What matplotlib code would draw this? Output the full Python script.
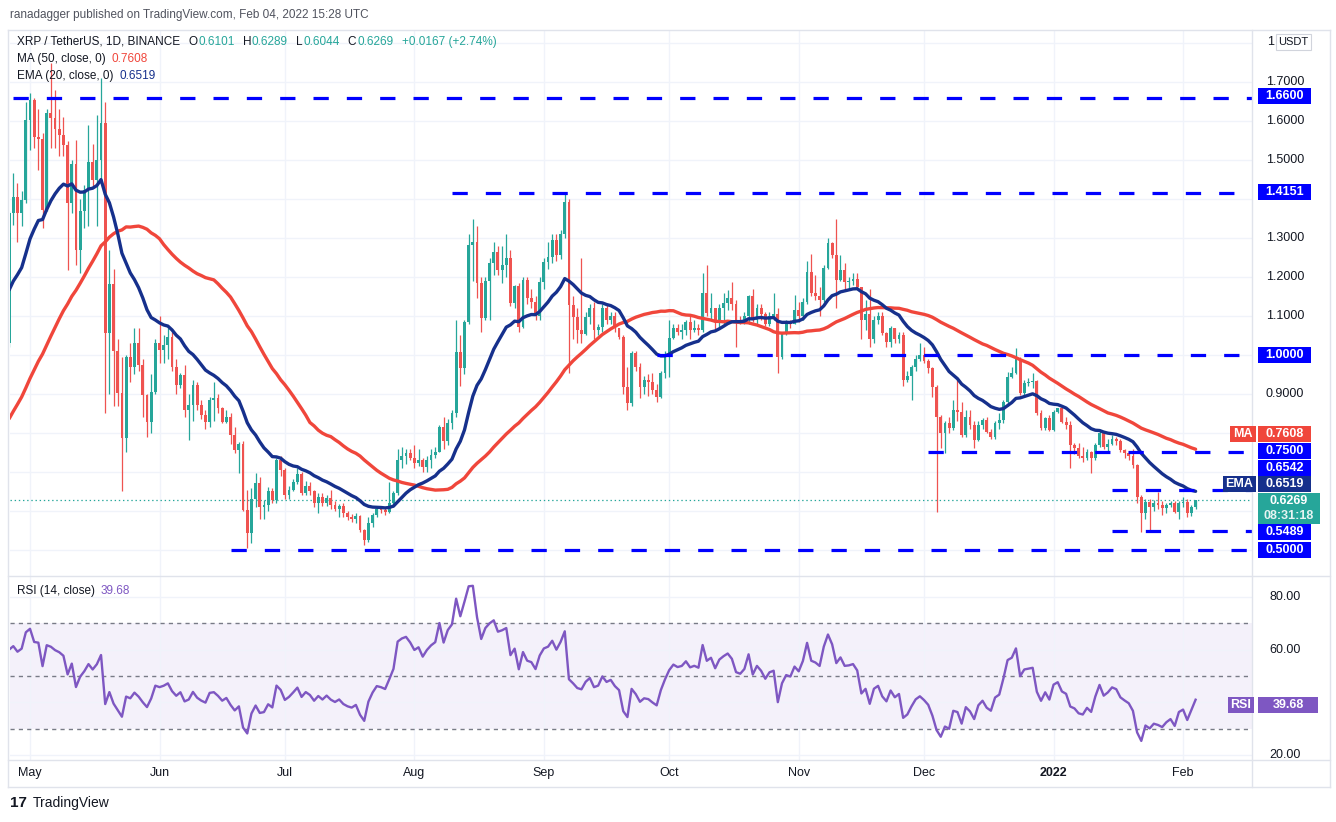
import numpy as np
import pandas as pd
import matplotlib
matplotlib.use('Agg')
import matplotlib.pyplot as plt
from matplotlib.patches import Rectangle
from matplotlib.transforms import blended_transform_factory

plt.rcParams['font.family'] = ['Liberation Sans', 'DejaVu Sans']
plt.rcParams['lines.scale_dashes'] = False

# ---------------- data (XRP/USDT daily) ----------------
# closes before the visible window, only used to warm up MA / EMA / RSI (Mar 1 - Apr 25 2021)
warmup_close = [0.44, 0.43, 0.45, 0.44, 0.45, 0.44, 0.44, 0.45, 0.46, 0.46, 0.44, 0.44, 0.47, 0.45, 0.44, 0.45,
                0.47, 0.47, 0.46, 0.50, 0.53, 0.51, 0.50, 0.47, 0.48, 0.51, 0.54, 0.55, 0.57, 0.56, 0.57,
                0.57, 0.58, 0.62, 0.61, 0.99, 0.96, 0.92, 1.06, 1.07, 1.37, 1.35, 1.45, 1.77, 1.68, 1.57,
                1.46, 1.43, 1.26, 1.22, 1.32, 1.21, 1.08, 1.10, 1.03, 1.03]

close_apr = [1.363, 1.406, 1.363, 1.397, 1.603]
high_apr = [1.37, 1.466, 1.44, 1.42, 1.65]
low_apr = [1.02, 1.333, 1.29, 1.33, 1.39]

close_may = [1.654, 1.56, 1.555, 1.372, 1.62, 1.607, 1.58, 1.564, 1.538, 1.389, 1.491, 1.269, 1.368, 1.423, 1.496,
             1.449, 1.50, 1.594, 1.056, 1.182, 1.009, 0.902, 0.786, 0.996, 0.97, 1.03, 0.975, 0.897, 0.829, 0.906, 1.03]
high_may = [1.671, 1.66, 1.63, 1.57, 1.63, 1.75, 1.68, 1.63, 1.61, 1.55, 1.50, 1.551, 1.40, 1.436, 1.59,
            1.54, 1.615, 1.71, 1.65, 1.27, 1.22, 1.04, 0.996, 1.0, 1.03, 1.07, 1.07, 0.99, 0.90, 0.95, 1.04]
low_may = [1.526, 1.53, 1.475, 1.325, 1.37, 1.53, 1.53, 1.51, 1.51, 1.218, 1.363, 1.231, 1.21, 1.325, 1.33,
           1.43, 1.33, 1.45, 0.85, 0.90, 0.87, 0.87, 0.65, 0.75, 0.93, 0.95, 0.96, 0.84, 0.79, 0.80, 0.90]

close_jun = [1.013, 1.026, 1.047, 0.97, 0.923, 0.949, 0.859, 0.872, 0.923, 0.872, 0.846, 0.829, 0.885, 0.889, 0.863,
             0.829, 0.842, 0.795, 0.756, 0.773, 0.603, 0.543, 0.632, 0.671, 0.611, 0.615, 0.65, 0.628, 0.731, 0.705]
high_jun = [1.10, 1.05, 1.07, 1.06, 0.99, 0.953, 0.975, 0.90, 0.936, 0.931, 0.885, 0.859, 0.893, 0.932, 0.90,
            0.867, 0.859, 0.85, 0.815, 0.777, 0.78, 0.655, 0.66, 0.697, 0.688, 0.628, 0.662, 0.658, 0.735, 0.74]
low_jun = [0.98, 0.98, 0.99, 0.96, 0.90, 0.915, 0.84, 0.782, 0.83, 0.86, 0.835, 0.81, 0.816, 0.83, 0.85,
           0.825, 0.825, 0.773, 0.748, 0.697, 0.60, 0.504, 0.517, 0.61, 0.58, 0.58, 0.60, 0.62, 0.62, 0.69]

close_jul = [0.641, 0.655, 0.675, 0.696, 0.645, 0.665, 0.650, 0.62, 0.637, 0.62, 0.633, 0.615, 0.605, 0.612, 0.594,
             0.585, 0.58, 0.586, 0.55, 0.526, 0.568, 0.59, 0.606, 0.603, 0.598, 0.62, 0.645, 0.73, 0.742, 0.748, 0.737]
high_jul = [0.71, 0.665, 0.683, 0.709, 0.70, 0.676, 0.675, 0.655, 0.645, 0.645, 0.64, 0.655, 0.625, 0.618, 0.62,
            0.60, 0.592, 0.595, 0.59, 0.553, 0.585, 0.595, 0.613, 0.612, 0.61, 0.675, 0.65, 0.76, 0.765, 0.76, 0.76]
low_jul = [0.632, 0.63, 0.65, 0.67, 0.64, 0.64, 0.64, 0.611, 0.594, 0.612, 0.614, 0.605, 0.60, 0.585, 0.585,
           0.577, 0.573, 0.57, 0.545, 0.513, 0.52, 0.56, 0.585, 0.595, 0.59, 0.595, 0.61, 0.64, 0.71, 0.72, 0.73]

close_aug = [0.722, 0.73, 0.712, 0.73, 0.743, 0.752, 0.816, 0.78, 0.826, 0.85, 1.008, 0.966, 1.085, 1.282, 1.29,
             1.184, 1.094, 1.19, 1.235, 1.265, 1.218, 1.23, 1.248, 1.133, 1.177, 1.073, 1.192, 1.145, 1.137, 1.10, 1.188]
high_aug = [0.77, 0.76, 0.735, 0.74, 0.76, 0.765, 0.82, 0.842, 0.835, 0.86, 1.09, 1.05, 1.09, 1.31, 1.35,
            1.33, 1.20, 1.20, 1.25, 1.29, 1.28, 1.28, 1.31, 1.27, 1.18, 1.185, 1.20, 1.20, 1.17, 1.15, 1.20]
low_aug = [0.71, 0.715, 0.70, 0.70, 0.71, 0.735, 0.75, 0.76, 0.77, 0.81, 0.84, 0.92, 0.95, 1.08, 1.19,
           1.145, 1.06, 1.09, 1.09, 1.205, 1.205, 1.185, 1.20, 1.125, 1.12, 1.06, 1.07, 1.13, 1.12, 1.09, 1.09]

close_sep = [1.239, 1.252, 1.295, 1.256, 1.31, 1.393, 1.128, 1.098, 1.064, 1.055, 1.098, 1.12, 1.064, 1.072, 1.12,
             1.09, 1.10, 1.068, 1.047, 0.919, 0.876, 1.004, 0.97, 0.919, 0.935, 0.93, 0.91, 0.893, 0.953, 1.0]
high_sep = [1.25, 1.29, 1.31, 1.31, 1.32, 1.415, 1.40, 1.15, 1.12, 1.25, 1.11, 1.13, 1.135, 1.08, 1.13,
            1.13, 1.11, 1.11, 1.07, 1.05, 0.97, 1.01, 1.01, 0.98, 0.945, 0.95, 0.955, 0.925, 0.96, 1.01]
low_sep = [1.17, 1.22, 1.235, 1.24, 1.245, 1.30, 0.953, 1.04, 1.03, 1.03, 1.05, 1.08, 1.04, 1.05, 1.06,
           1.08, 1.08, 1.06, 1.04, 0.90, 0.86, 0.87, 0.96, 0.89, 0.90, 0.895, 0.90, 0.88, 0.89, 0.94]

close_oct = [1.043, 1.07, 1.06, 1.065, 1.085, 1.064, 1.07, 1.064, 1.158, 1.107, 1.12, 1.085, 1.12, 1.134, 1.145,
             1.13, 1.09, 1.085, 1.10, 1.15, 1.09, 1.12, 1.105, 1.08, 1.10, 1.105, 0.996, 1.056, 1.085, 1.08, 1.115]
high_oct = [1.09, 1.08, 1.08, 1.08, 1.09, 1.10, 1.09, 1.08, 1.21, 1.23, 1.16, 1.12, 1.13, 1.16, 1.167,
            1.187, 1.14, 1.10, 1.11, 1.155, 1.17, 1.13, 1.13, 1.11, 1.11, 1.16, 1.12, 1.06, 1.09, 1.09, 1.155]
low_oct = [0.944, 1.04, 1.05, 1.04, 1.05, 1.04, 1.06, 1.05, 1.06, 1.10, 1.09, 1.065, 1.07, 1.08, 1.115,
           1.115, 1.02, 1.08, 1.08, 1.08, 1.085, 1.08, 1.09, 1.075, 1.075, 1.09, 0.953, 0.99, 1.05, 1.07, 1.08]

close_nov = [1.10, 1.137, 1.214, 1.158, 1.152, 1.141, 1.222, 1.286, 1.256, 1.192, 1.218, 1.188, 1.19, 1.195, 1.175,
             1.09, 1.105, 1.04, 1.09, 1.10, 1.056, 1.034, 1.068, 1.04, 1.05, 0.936, 0.946, 0.97, 0.991, 1.0]
high_nov = [1.135, 1.145, 1.24, 1.26, 1.205, 1.175, 1.23, 1.30, 1.29, 1.35, 1.256, 1.235, 1.20, 1.21, 1.21,
            1.175, 1.14, 1.17, 1.10, 1.11, 1.11, 1.06, 1.075, 1.07, 1.06, 1.06, 0.96, 0.975, 1.0, 1.03]
low_nov = [1.085, 1.09, 1.13, 1.15, 1.14, 1.10, 1.135, 1.22, 1.25, 1.12, 1.19, 1.167, 1.17, 1.18, 1.17,
           1.04, 1.065, 1.02, 1.03, 1.08, 1.05, 1.02, 1.02, 1.03, 1.03, 0.92, 0.93, 0.885, 0.96, 0.985]

close_dec = [0.985, 0.966, 0.919, 0.842, 0.799, 0.825, 0.812, 0.859, 0.853, 0.795, 0.84, 0.82, 0.782, 0.82, 0.833,
             0.803, 0.79, 0.825, 0.833, 0.88, 0.944, 0.953, 0.99, 0.902, 0.927, 0.93, 0.933, 0.85, 0.812, 0.838, 0.808]
high_dec = [1.02, 0.99, 0.97, 0.923, 0.845, 0.83, 0.84, 0.885, 0.936, 0.88, 0.859, 0.86, 0.83, 0.83, 0.838,
            0.84, 0.81, 0.83, 0.85, 0.885, 0.957, 0.97, 1.017, 0.995, 0.936, 0.94, 0.953, 0.935, 0.859, 0.84, 0.846]
low_dec = [0.98, 0.955, 0.893, 0.598, 0.761, 0.748, 0.80, 0.808, 0.83, 0.79, 0.79, 0.81, 0.761, 0.78, 0.81,
           0.80, 0.785, 0.785, 0.81, 0.825, 0.87, 0.94, 0.95, 0.897, 0.897, 0.92, 0.915, 0.846, 0.808, 0.808, 0.804]

close_jan = [0.855, 0.863, 0.829, 0.82, 0.769, 0.761, 0.74, 0.735, 0.75, 0.735, 0.77, 0.799, 0.765, 0.773, 0.785,
             0.78, 0.757, 0.748, 0.74, 0.718, 0.637, 0.594, 0.624, 0.611, 0.62, 0.615, 0.607, 0.615, 0.62, 0.598, 0.62]
high_jan = [0.86, 0.865, 0.865, 0.84, 0.83, 0.775, 0.775, 0.765, 0.76, 0.755, 0.775, 0.81, 0.805, 0.785, 0.795,
            0.79, 0.785, 0.76, 0.755, 0.76, 0.72, 0.64, 0.63, 0.63, 0.628, 0.649, 0.625, 0.62, 0.625, 0.625, 0.625]
low_jan = [0.805, 0.85, 0.825, 0.81, 0.71, 0.745, 0.735, 0.726, 0.73, 0.697, 0.73, 0.765, 0.76, 0.755, 0.77,
           0.77, 0.75, 0.735, 0.73, 0.71, 0.62, 0.547, 0.58, 0.547, 0.60, 0.605, 0.59, 0.595, 0.61, 0.595, 0.58]

close_feb = [0.624, 0.594, 0.6101, 0.6269]
high_feb = [0.637, 0.63, 0.615, 0.6289]
low_feb = [0.61, 0.585, 0.587, 0.6044]

# horizontal levels drawn on the chart and the day each one starts
levels = [1.66, 1.4151, 1.0, 0.75, 0.6542, 0.5489, 0.5]
level_start = ['2021-04-27', '2021-08-10', '2021-09-28', '2021-12-02', '2022-01-15', '2022-01-15', '2021-06-18']

# scale labels that are not hidden behind the value tags
price_ticks = [0.9, 1.1, 1.2, 1.3, 1.5, 1.6, 1.7]
rsi_ticks = [20, 60, 80]

month_ticks = ['2021-05-01', '2021-06-01', '2021-07-01', '2021-08-01', '2021-09-01', '2021-10-01',
               '2021-11-01', '2021-12-01', '2022-01-01', '2022-02-01']
month_labels = ['May', 'Jun', 'Jul', 'Aug', 'Sep', 'Oct', 'Nov', 'Dec', '2022', 'Feb']

# ---------------- series ----------------
close = np.array(close_apr + close_may + close_jun + close_jul + close_aug + close_sep
                 + close_oct + close_nov + close_dec + close_jan + close_feb)
high = np.array(high_apr + high_may + high_jun + high_jul + high_aug + high_sep
                + high_oct + high_nov + high_dec + high_jan + high_feb)
low = np.array(low_apr + low_may + low_jun + low_jul + low_aug + low_sep
               + low_oct + low_nov + low_dec + low_jan + low_feb)
opn = np.r_[warmup_close[-1], close[:-1]]

origin = pd.Timestamp('2021-05-01')
dates = pd.date_range('2021-04-26', periods=len(close), freq='D')
x = np.asarray((dates - origin).days, dtype=float)

s = pd.Series(warmup_close + list(close))
ma50 = s.rolling(50).mean().to_numpy()[-len(close):]
ema20 = s.ewm(span=20, adjust=False).mean().to_numpy()[-len(close):]
d = s.diff()
gain = d.clip(lower=0).ewm(alpha=1 / 14, adjust=False).mean()
loss = (-d.clip(upper=0)).ewm(alpha=1 / 14, adjust=False).mean()
rsi = (100 - 100 / (1 + gain / loss)).to_numpy()[-len(close):]

# ---------------- figure ----------------
W, H = 1336, 822
fig = plt.figure(figsize=(W / 100, H / 100), dpi=100)
fig.patch.set_facecolor('white')


def fx(px):
    return px / W


def fy(py):
    return 1 - py / H


TXT = '#131722'
UP, DOWN = '#26a69a', '#ef5350'
MA_C, EMA_C = '#f0463b', '#16308c'
LVL_C = '#0000ff'
RSI_C = '#7e57c2'
GRID = '#f0f3fa'
BORDER = '#e0e3eb'

ax = fig.add_axes([fx(10), fy(576), fx(1242), (576 - 31) / H])
ax2 = fig.add_axes([fx(10), fy(760), fx(1242), (760 - 577) / H], sharex=ax)

x_left, x_right = -4.79, 292.5
month_x = [(pd.Timestamp(m) - origin).days for m in month_ticks]

for a in (ax, ax2):
    for sp in a.spines.values():
        sp.set_visible(False)
    a.set_xticks(month_x)
    a.grid(True, color=GRID, lw=1, zorder=0)
    a.tick_params(length=0, labelleft=False, labelright=False)
    a.set_axisbelow(True)

# candles
up = close >= opn
cols = np.where(up, UP, DOWN)
ax.vlines(x, low, high, colors=cols, lw=0.9, zorder=2)
ax.bar(x, np.maximum(np.abs(close - opn), 0.002), bottom=np.minimum(opn, close),
       width=0.68, color=cols, lw=0, zorder=3)

ax.plot(x, ma50, color=MA_C, lw=2.4, zorder=4, solid_capstyle='round')
ax.plot(x, ema20, color=EMA_C, lw=2.4, zorder=4, solid_capstyle='round')

for lv, st in zip(levels, level_start):
    xs = (pd.Timestamp(st) - origin).days
    ax.plot([xs, x_right], [lv, lv], color=LVL_C, lw=2.3, dashes=(11, 13), zorder=5)

ax.axhline(close[-1], color=UP, lw=0.9, ls=(0, (1, 2)), zorder=1)

ax.set_yticks(np.round(np.arange(0.5, 1.85, 0.1), 1))
ax.set_xlim(x_left, x_right)
ax.set_ylim(0.4333, 1.8308)
ax.tick_params(labelbottom=False)

# RSI pane
ax2.axhspan(30, 70, color=RSI_C, alpha=0.08, lw=0, zorder=0)
for lv in (70, 50, 30):
    ax2.axhline(lv, color='#787b86', lw=1, dashes=(3, 3), zorder=1)
ax2.plot(x, rsi, color=RSI_C, lw=1.7, zorder=3)
ax2.set_yticks([20, 40, 60, 80])
ax2.set_ylim(18.1, 87.6)
ax2.set_xticklabels(month_labels, fontsize=9, color=TXT)
ax2.tick_params(axis='x', pad=5)
ax2.get_xticklabels()[8].set_fontweight('bold')

# right scale tick labels
tp = blended_transform_factory(fig.transFigure, ax.transData)
for v in price_ticks:
    ax.text(fx(1285), v, '%.4f' % v, transform=tp, ha='center', va='center',
            fontsize=9, color=TXT, clip_on=False, zorder=6)
tr = blended_transform_factory(fig.transFigure, ax2.transData)
for v in rsi_ticks:
    ax2.text(fx(1285), v, '%.2f' % v, transform=tr, ha='center', va='center',
             fontsize=9, color=TXT, clip_on=False, zorder=6)
# top scale label is mostly hidden by the currency box, only its first digit shows
fig.text(fx(1267), fy(42), '1', ha='left', va='center', fontsize=9, color=TXT)


def tag(x0, x1, yc, h, text, fc, tc='white', size=9):
    fig.patches.append(Rectangle((fx(x0), fy(yc + h / 2)), (x1 - x0) / W, h / H,
                                 transform=fig.transFigure, fc=fc, ec='none', zorder=10))
    if text:
        fig.text(fx((x0 + x1) / 2), fy(yc), text, ha='center', va='center', color=tc,
                 fontsize=size, fontweight='bold', zorder=11)


# price scale labels (stacked as in the chart)
tag(1258, 1311, 96, 16, '1.6600', LVL_C)
tag(1258, 1311, 192, 16, '1.4151', LVL_C)
tag(1258, 1311, 355, 16, '1.0000', LVL_C)
tag(1230, 1256, 434, 16, 'MA', MA_C)
tag(1258, 1311, 434, 16, '0.7608', MA_C)
tag(1258, 1311, 451, 16, '0.7500', LVL_C)
tag(1258, 1311, 468, 16, '0.6542', LVL_C)
tag(1223, 1256, 484, 16, 'EMA', EMA_C)
tag(1258, 1311, 484, 16, '0.6519', EMA_C)
tag(1258, 1320, 508, 31, '', UP)
fig.text(fx(1289), fy(501), '0.6269', ha='center', va='center', color='white', fontsize=9,
         fontweight='bold', zorder=12)
fig.text(fx(1289), fy(516), '08:31:18', ha='center', va='center', color='#e6f4f2', fontsize=9,
         fontweight='bold', zorder=12)
tag(1258, 1311, 532, 16, '0.5489', LVL_C)
tag(1258, 1311, 550, 16, '0.5000', LVL_C)
tag(1228, 1254, 705, 16, 'RSI', RSI_C)
tag(1258, 1318, 705, 16, '39.68', RSI_C)

# USDT currency box at the top of the scale
fig.patches.append(Rectangle((fx(1276), fy(50)), fx(35), 16 / H, transform=fig.transFigure,
                             fc='white', ec='#d1d4dc', lw=0.8, zorder=10))
fig.text(fx(1293.5), fy(42), 'USDT', ha='center', va='center', fontsize=8, color=TXT, zorder=11)

# frame lines
for (xa, ya, xb, yb) in [(8, 30, 1330, 30), (8, 787, 1330, 787), (8, 30, 8, 787), (1330, 30, 1330, 787),
                         (8, 576.5, 1330, 576.5), (8, 760, 1330, 760), (1252, 30, 1252, 787)]:
    fig.add_artist(plt.Line2D([fx(xa), fx(xb)], [fy(ya), fy(yb)], color=BORDER, lw=1,
                              transform=fig.transFigure, zorder=9))

renderer = fig.canvas.get_renderer()


def text_row(x0, y, parts, size=8.5):
    # lay text pieces out left to right, each (text, colour, gap after)
    xp = x0
    for txt, col, gap in parts:
        t = fig.text(fx(xp), fy(y), txt, fontsize=size, color=col, va='center')
        xp += t.get_window_extent(renderer).width + gap


# header, legends, footer
fig.text(fx(10), fy(15), 'ranadagger published on TradingView.com, Feb 04, 2022 15:28 UTC',
         fontsize=8.5, color='#50535e', va='center')
text_row(17, 42, [('XRP / TetherUS, 1D, BINANCE', TXT, 8),
                  ('O', TXT, 1), ('0.6101', UP, 8),
                  ('H', TXT, 1), ('0.6289', UP, 8),
                  ('L', TXT, 1), ('0.6044', UP, 8),
                  ('C', TXT, 1), ('0.6269', UP, 8),
                  ('+0.0167 (+2.74%)', UP, 0)])
text_row(17, 59, [('MA (50, close, 0)', TXT, 6), ('0.7608', MA_C, 0)])
text_row(17, 76, [('EMA (20, close, 0)', TXT, 6), ('0.6519', EMA_C, 0)])
text_row(17, 591, [('RSI (14, close)', TXT, 6), ('39.68', RSI_C, 0)])

fig.text(fx(10), fy(803), '17', fontsize=11, fontweight='bold', color=TXT, va='center')
fig.text(fx(33), fy(803), 'TradingView', fontsize=10, color=TXT, va='center')

fig.savefig('out.png', dpi=100)
